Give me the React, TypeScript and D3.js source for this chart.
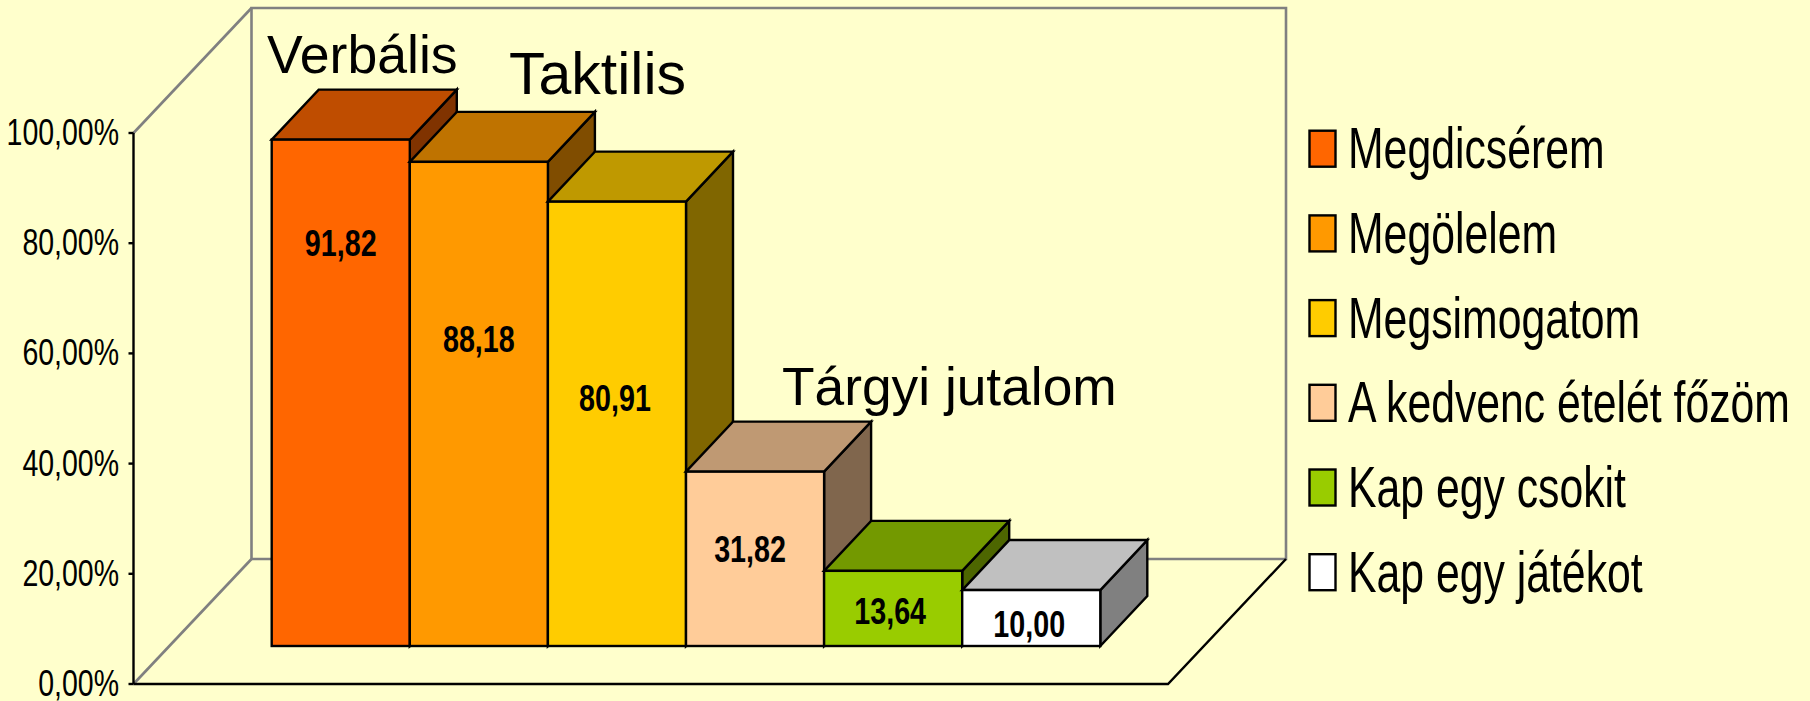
import React from "react";
import * as d3 from "d3";

const categories = ["Megdicsérem", "Megölelem", "Megsimogatom", "A kedvenc ételét főzöm", "Kap egy csokit", "Kap egy játékot"];
// bar heights; the printed labels are kept separately
const values = [91.9, 87.87, 80.64, 31.64, 13.64, 10.15];
const valueLabels = ["91,82", "88,18", "80,91", "31,82", "13,64", "10,00"];
const frontColors = ["#FF6600", "#FF9900", "#FFCC00", "#FFCC99", "#99CC00", "#FFFFFF"];
const topColors = ["#BF4D00", "#BF7300", "#BF9900", "#BF9973", "#739900", "#C0C0C0"];
const sideColors = ["#803300", "#804D00", "#806600", "#80664D", "#4D6600", "#808080"];
const tickValues = [0, 20, 40, 60, 80, 100];
const tickLabels = ["0,00%", "20,00%", "40,00%", "60,00%", "80,00%", "100,00%"];
const annotations = ["Verbális", "Taktilis", "Tárgyi jutalom"];

// layout
const W = 1810, H = 701;
const AX = 133.5, AX_R = 1168, Y0 = 684, Y100 = 133;
const DX = 118, DY = 125;
const BAR_DX = 47, BAR_DY = 50, BASE_LIFT = 38;
const labelBaselines = [256, 352, 411, 562, 624, 637];
const labelShift = [0, 0, -2, -5, -3, -2];
const annotationPos = [[267, 72.7, 53.6], [509, 94, 59], [782, 405, 53.3]];
const FONT = "'Liberation Sans', Arial, sans-serif";

const y = d3.scaleLinear().domain([0, 100]).range([Y0, Y100]);
const x = d3.scaleBand<number>().domain(d3.range(categories.length)).range([271.7, 1100.3]).padding(0);
const legendY = d3.scalePoint<number>().domain(d3.range(categories.length)).range([148.7, 572.2]);
const line = d3.line();
const poly = (pts: [number, number][]) => line(pts) + "Z";

export default function App() {
  const bw = x.bandwidth();
  const baseY = Y0 - BASE_LIFT;
  return (
    <svg width={W} height={H} viewBox={`0 0 ${W} ${H}`} style={{ position: "absolute", left: 0, top: 0, display: "block", background: "#FFFFCC" }} fontFamily={FONT}>
      <rect width={W} height={H} fill="#FFFFCC" />
      {/* walls */}
      <g fill="none" stroke="#808080" strokeWidth={2.6} strokeLinejoin="miter">
        <path d={poly([[AX + DX, Y100 - DY], [AX_R + DX, Y100 - DY], [AX_R + DX, Y0 - DY], [AX + DX, Y0 - DY]])} />
        <path d={line([[AX, Y100], [AX + DX, Y100 - DY]])!} />
        <path d={line([[AX, Y0], [AX + DX, Y0 - DY]])!} />
      </g>
      {/* floor front and right edges */}
      <path d={line([[AX, Y0], [AX_R, Y0], [AX_R + DX, Y0 - DY]])!} fill="none" stroke="#000" strokeWidth={2.4} />
      {/* y axis */}
      <path d={line([[AX, Y100], [AX, Y0]])!} stroke="#000" strokeWidth={2.4} fill="none" />
      {tickValues.map((t, i) => (
        <g key={t}>
          <line x1={AX - 5} x2={AX} y1={y(t)} y2={y(t)} stroke="#000" strokeWidth={2.4} />
          <text transform={`translate(119,${y(t) + 12}) scale(0.77,1)`} textAnchor="end" fontSize={37} fill="#000">{tickLabels[i]}</text>
        </g>
      ))}
      {/* bars */}
      <g stroke="#000" strokeWidth={2.4} strokeLinejoin="miter">
        {values.map((v, i) => {
          const l = x(i)!, r = l + bw, t = y(v) - BASE_LIFT;
          return (
            <g key={i}>
              <path d={poly([[r, t], [r + BAR_DX, t - BAR_DY], [r + BAR_DX, baseY - BAR_DY], [r, baseY]])} fill={sideColors[i]} />
              <path d={poly([[l, t], [l + BAR_DX, t - BAR_DY], [r + BAR_DX, t - BAR_DY], [r, t]])} fill={topColors[i]} />
              <rect x={l} y={t} width={bw} height={baseY - t} fill={frontColors[i]} />
            </g>
          );
        })}
      </g>
      {values.map((_, i) => (
        <text key={i} transform={`translate(${x(i)! + bw / 2 + labelShift[i]},${labelBaselines[i]}) scale(0.765,1)`} textAnchor="middle" fontSize={37.5} fontWeight="bold" fill="#000">{valueLabels[i]}</text>
      ))}
      {annotations.map((a, i) => (
        <text key={a} x={annotationPos[i][0]} y={annotationPos[i][1]} fontSize={annotationPos[i][2]} fill="#000">{a}</text>
      ))}
      {/* legend */}
      {categories.map((c, i) => (
        <g key={c}>
          <rect x={1309.5} y={legendY(i)! - 18} width={26} height={36} fill={frontColors[i]} stroke="#000" strokeWidth={2.4} />
          <text transform={`translate(1348,${legendY(i)! + 19.5}) scale(0.75,1)`} fontSize={57} fill="#000">{c}</text>
        </g>
      ))}
    </svg>
  );
}
